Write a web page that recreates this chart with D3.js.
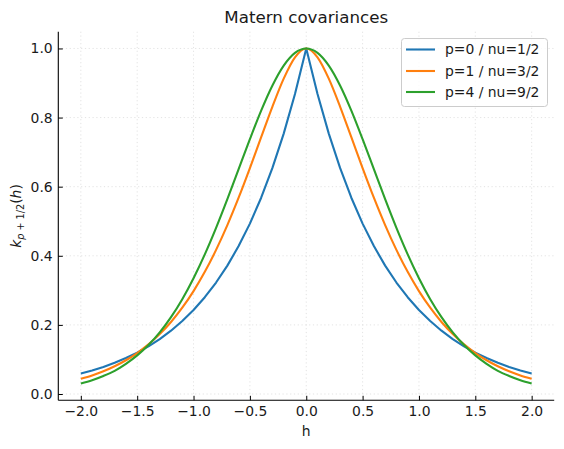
<!DOCTYPE html>
<html>
<head>
<meta charset="utf-8">
<script src="https://cdn.jsdelivr.net/npm/d3@7"></script>
<style>
  html, body { margin: 0; padding: 0; background: #fff; }
  svg { display: block; font-family: "DejaVu Sans", sans-serif; }
</style>
</head>
<body>
<svg id="chart" width="564" height="449"></svg>
<script>
// ---- data ----
const hValues = [-2.0,-1.9,-1.8,-1.7,-1.6,-1.5,-1.4,-1.3,-1.2,-1.1,-1.0,-0.9,-0.8,-0.7,-0.6,-0.5,-0.4,-0.3,-0.2,-0.1,
  0.0,0.1,0.2,0.3,0.4,0.5,0.6,0.7,0.8,0.9,1.0,1.1,1.2,1.3,1.4,1.5,1.6,1.7,1.8,1.9,2.0];
const seriesNames = ["p=0 / nu=1/2", "p=1 / nu=3/2", "p=4 / nu=9/2"];
const nuHalf = [0.0591,0.0681,0.0784,0.0903,0.1041,0.1199,0.1381,0.1591,0.1832,0.2111,0.2431,0.2801,0.3226,0.3716,0.4281,0.4931,0.5680,0.6543,0.7536,0.8681,
  1.0,0.8681,0.7536,0.6543,0.5680,0.4931,0.4281,0.3716,0.3226,0.2801,0.2431,0.2111,0.1832,0.1591,0.1381,0.1199,0.1041,0.0903,0.0784,0.0681,0.0591];
const nuThreeHalves = [0.0440,0.0538,0.0658,0.0803,0.0977,0.1186,0.1436,0.1733,0.2084,0.2497,0.2978,0.3535,0.4170,0.4887,0.5680,0.6537,0.7432,0.8320,0.9128,0.9745,
  1.0,0.9745,0.9128,0.8320,0.7432,0.6537,0.5680,0.4887,0.4170,0.3535,0.2978,0.2497,0.2084,0.1733,0.1436,0.1186,0.0977,0.0803,0.0658,0.0538,0.0440];
const nuNineHalves = [0.0305,0.0401,0.0523,0.0671,0.0874,0.1118,0.1418,0.1784,0.2225,0.2745,0.3351,0.4040,0.4807,0.5637,0.6505,0.7375,0.8201,0.8929,0.9504,0.9873,
  1.0,0.9873,0.9504,0.8929,0.8201,0.7375,0.6505,0.5637,0.4807,0.4040,0.3351,0.2745,0.2225,0.1784,0.1418,0.1118,0.0874,0.0671,0.0523,0.0401,0.0305];
const xTicks = [-2.0,-1.5,-1.0,-0.5,0.0,0.5,1.0,1.5,2.0];
const yTicks = [0.0,0.2,0.4,0.6,0.8,1.0];
const colors = ["#1f77b4", "#ff7f0e", "#2ca02c"];

// ---- layout ----
const svg = d3.select("#chart");
const pLeft = 58.3, pRight = 554.2, pTop = 31.7, pBottom = 400.3;
const FS = 13.9;
const x = d3.scaleLinear().domain([-2.2, 2.2]).range([pLeft, pRight]);
const y = d3.scaleLinear().domain([-0.0182, 1.0485]).range([pBottom, pTop]);

// grid
const grid = svg.append("g").attr("stroke", "#dcdcdc").attr("stroke-width", 0.8).attr("stroke-dasharray", "1.2,2.6");
grid.selectAll("line.vx").data(xTicks).join("line").attr("class", "vx")
  .attr("x1", d => x(d)).attr("x2", d => x(d)).attr("y1", pTop).attr("y2", pBottom);
grid.selectAll("line.hy").data(yTicks).join("line").attr("class", "hy")
  .attr("y1", d => y(d)).attr("y2", d => y(d)).attr("x1", pLeft).attr("x2", pRight);

// lines
const series = [nuHalf, nuThreeHalves, nuNineHalves];
const curves = [d3.curveLinear, d3.curveMonotoneX, d3.curveMonotoneX];
series.forEach((vals, i) => {
  const line = d3.line().x((d, j) => x(hValues[j])).y(d => y(d)).curve(curves[i]);
  svg.append("path").datum(vals)
    .attr("fill", "none").attr("stroke", colors[i]).attr("stroke-width", 2.1)
    .attr("stroke-linejoin", "round").attr("d", line);
});

// axes
const fmt = d3.format(".1f");
const xAxis = svg.append("g").attr("transform", `translate(0,${pBottom})`)
  .call(d3.axisBottom(x).tickValues(xTicks).tickFormat(fmt).tickSize(-4.5).tickSizeOuter(0).tickPadding(5.8));
const yAxis = svg.append("g").attr("transform", `translate(${pLeft},0)`)
  .call(d3.axisLeft(y).tickValues(yTicks).tickFormat(fmt).tickSize(-4.5).tickSizeOuter(0).tickPadding(5.6));
[xAxis, yAxis].forEach(a => {
  a.selectAll("text").attr("font-size", FS).attr("fill", "#1a1a1a").attr("font-family", "DejaVu Sans");
  a.selectAll("line").attr("stroke", "#000").attr("stroke-width", 1.0);
  a.select(".domain").attr("stroke", "#000").attr("stroke-width", 1.1);
});
yAxis.select(".domain").attr("d", `M0,${pTop}V${pBottom}`);
xAxis.select(".domain").attr("d", `M${pLeft},0H${pRight}`);

// title
svg.append("text").attr("x", (pLeft + pRight) / 2).attr("y", 22.7)
  .attr("text-anchor", "middle").attr("font-size", 16.7).attr("fill", "#1a1a1a")
  .text("Matern covariances");

// x label
svg.append("text").attr("x", (pLeft + pRight) / 2).attr("y", 435.5)
  .attr("text-anchor", "middle").attr("font-size", FS).attr("fill", "#1a1a1a").text("h");

// y label k_{p+1/2}(h)
const yl = svg.append("text")
  .attr("transform", `translate(21,${(pTop + pBottom) / 2}) rotate(-90)`)
  .attr("text-anchor", "middle").attr("font-size", FS).attr("fill", "#1a1a1a");
yl.append("tspan").attr("font-style", "italic").text("k");
yl.append("tspan").attr("font-size", 9.7).attr("dy", 3).attr("font-style", "italic").text("p");
yl.append("tspan").attr("font-size", 9.7).text(" + 1/2");
yl.append("tspan").attr("dy", -3).text("(");
yl.append("tspan").attr("font-style", "italic").text("h");
yl.append("tspan").text(")");

// legend
const lg = svg.append("g");
lg.append("rect").attr("x", 401.5).attr("y", 38.5).attr("width", 146).attr("height", 68)
  .attr("rx", 3).attr("fill", "#fff").attr("fill-opacity", 0.8).attr("stroke", "#cccccc").attr("stroke-width", 1);
const rowsY = [49.5, 71, 92];
seriesNames.forEach((name, i) => {
  lg.append("line").attr("x1", 406).attr("x2", 435).attr("y1", rowsY[i]).attr("y2", rowsY[i])
    .attr("stroke", colors[i]).attr("stroke-width", 2.1);
  lg.append("text").attr("x", 445).attr("y", rowsY[i]).attr("dy", "0.35em")
    .attr("font-size", FS).attr("fill", "#1a1a1a").text(name);
});
</script>
</body>
</html>
